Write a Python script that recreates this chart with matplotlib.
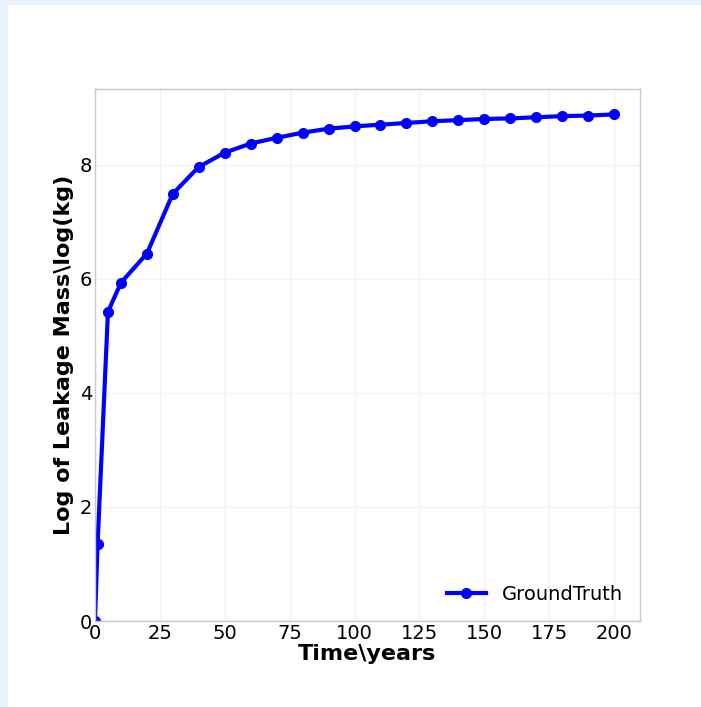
import matplotlib
matplotlib.use("Agg")
import matplotlib.pyplot as plt
from matplotlib.patches import Rectangle

# time in years and log leakage mass
years = [0, 1, 5, 10, 20, 30, 40, 50, 60, 70, 80, 90, 100, 110, 120,
         130, 140, 150, 160, 170, 180, 190, 200]
log_mass = [0.0, 1.35, 5.42, 5.93, 6.44, 7.49, 7.96, 8.21, 8.37, 8.47, 8.56,
            8.63, 8.67, 8.70, 8.73, 8.76, 8.78, 8.80, 8.81, 8.83, 8.85, 8.86, 8.88]

fig = plt.figure(figsize=(7.01, 7.07), dpi=100)
fig.patch.set_facecolor("#eaf3fd")
# white page area, the blue band stays on the left and top
fig.patches.append(Rectangle((0.012, 0), 0.988, 0.993, transform=fig.transFigure,
                             facecolor="white", edgecolor="none", zorder=-10))

ax = fig.add_axes([0.1355, 0.1216, 0.7775, 0.7524])
ax.plot(years, log_mass, color="blue", linewidth=3, marker="o",
        markersize=7, label="GroundTruth")

ax.set_xlim(left=0)
ax.set_ylim(bottom=0)
ax.set_xticks([0, 25, 50, 75, 100, 125, 150, 175, 200])
ax.set_yticks([0, 2, 4, 6, 8])
ax.tick_params(axis="both", length=0, labelsize=14, pad=2)

ax.grid(True, color="#f2f2f2", linewidth=1)
ax.set_axisbelow(True)
for s in ax.spines.values():
    s.set_color("#c8c8c8")
    s.set_linewidth(1)

ax.set_xlabel("Time\\years", fontsize=16, fontweight="bold", labelpad=1)
ax.set_ylabel("Log of Leakage Mass\\log(kg)", fontsize=16, fontweight="bold", labelpad=4)

leg = ax.legend(loc="lower right", fontsize=14, frameon=False, borderaxespad=0.5)

fig.savefig("out.png", dpi=100, facecolor=fig.get_facecolor())
